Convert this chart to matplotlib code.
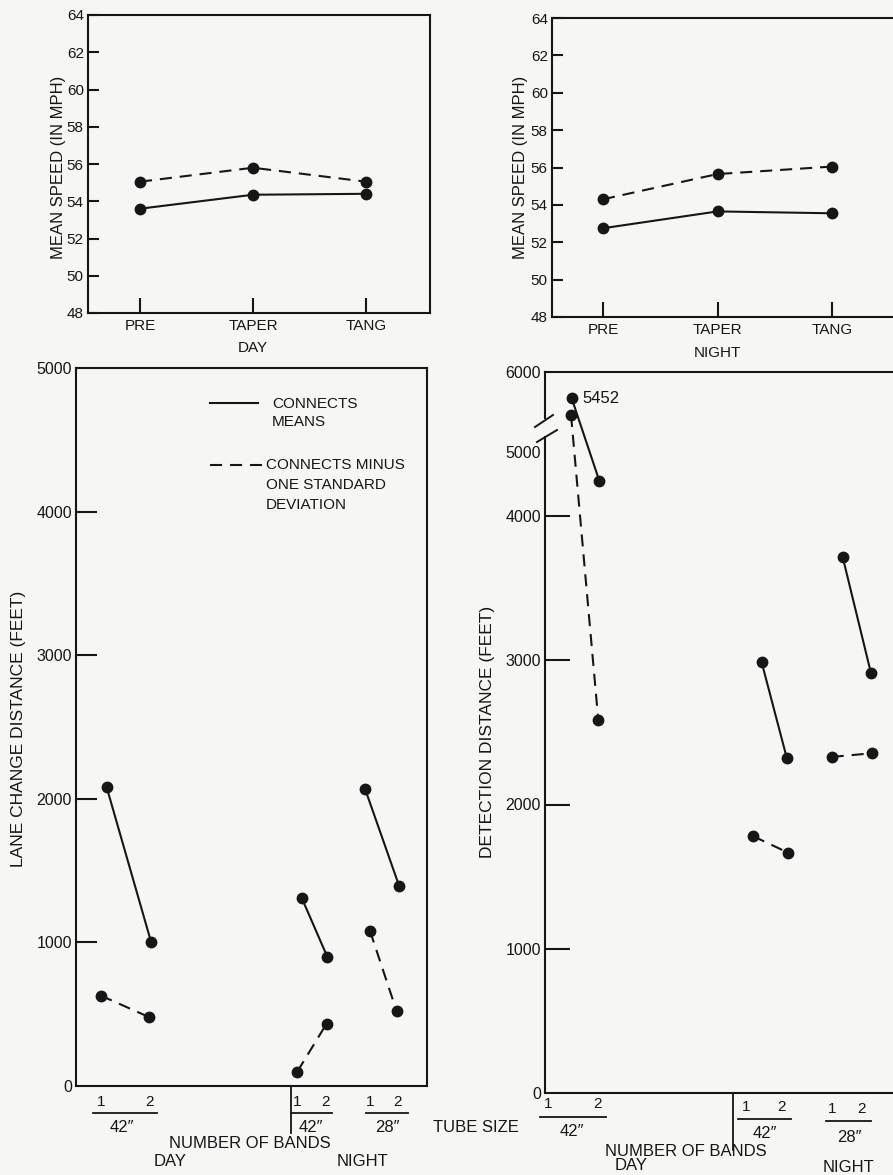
import numpy as np
import matplotlib
matplotlib.use("Agg")
import matplotlib.pyplot as plt
from matplotlib.lines import Line2D

# ---------------- data ----------------
stages = ["PRE", "TAPER", "TANG"]
speed_ticks = [48, 50, 52, 54, 56, 58, 60, 62, 64]
day_speed_solid = [53.6, 54.35, 54.4]
day_speed_dashed = [55.05, 55.8, 55.05]
night_speed_solid = [52.75, 53.65, 53.55]
night_speed_dashed = [54.3, 55.65, 56.05]

band_labels = ["1", "2"]
tube_labels = ["42\u2033", "42\u2033", "28\u2033"]   # day 42", night 42", night 28"

lane_ticks = [0, 1000, 2000, 3000, 4000, 5000]
lane_mean = [[2080, 1005], [1310, 900], [2070, 1390]]
lane_minus_sd = [[630, 480], [100, 435], [1080, 520]]

detect_ticks = [0, 1000, 2000, 3000, 4000, 5000, 6000]
detect_mean = [[5452, 4550], [2985, 2325], [3715, 2910]]
detect_minus_sd = [[5240, 2585], [1780, 1665], [2330, 2355]]
peak_label = "5452"

# ---------------- layout / style ----------------
W, H = 893, 1175
INK = "#161616"
PAPER = "#f6f6f4"
LW = 1.5
DASH = (0, (5.8, 3.8))
MS = 7.5

# horizontal slot positions of the band points inside the lower panels
lane_x_mean = [[30.7, 75.0], [225.7, 251.3], [289.0, 323.3]]
lane_x_sd = [[24.7, 73.0], [221.3, 250.7], [294.0, 320.7]]
detect_x_mean = [[26.7, 54.3], [216.7, 241.7], [297.7, 326.0]]
detect_x_sd = [[26.0, 53.3], [208.3, 243.3], [286.7, 326.7]]

# broken vertical scale of the detection panel (value -> drawing height)
break_vals = [-10000, 0, 4000, 5000, 5300, 6000, 16000]
break_height = [-1442.5, 0, 577, 641, 687.4, 721, 1201]

plt.rcParams["font.family"] = ["Liberation Sans", "DejaVu Sans"]
plt.rcParams["text.color"] = INK
plt.rcParams["axes.edgecolor"] = INK
plt.rcParams["xtick.color"] = INK
plt.rcParams["ytick.color"] = INK

fig = plt.figure(figsize=(W / 100, H / 100), dpi=100, facecolor=PAPER)


def fx(x):
    return x / W


def fy(y):
    return 1 - y / H


def axes_px(l, t, r, b):
    ax = fig.add_axes([fx(l), fy(b), (r - l) / W, (b - t) / H])
    ax.set_facecolor(PAPER)
    for s in ax.spines.values():
        s.set_linewidth(LW)
    return ax


def ftext(x, y, s, ha="center", va="center", size=11, **kw):
    fig.text(fx(x), fy(y), s, ha=ha, va=va, fontsize=size, **kw)


def fline(xs, ys, **kw):
    kw.setdefault("color", INK)
    kw.setdefault("lw", 1.3)
    fig.add_artist(Line2D([fx(x) for x in xs], [fy(y) for y in ys],
                          transform=fig.transFigure, **kw))


# ---------------- speed panels ----------------
def speed_panel(box, xpix, solid, dashed, title, title_y, ylab_x, ylab_y):
    l, t, r, b = box
    ax = axes_px(l, t, r, b)
    step = (xpix[2] - xpix[0]) / 2
    x = np.arange(len(stages))
    ax.plot(x, solid, ls="-", color=INK, lw=LW, marker="o", ms=MS)
    ax.plot(x, dashed, ls=DASH, color=INK, lw=LW, marker="o", ms=MS)
    ax.set_xlim((l - xpix[0]) / step, (r - xpix[0]) / step)
    ax.set_ylim(48, 64)
    ax.set_xticks(x, stages)
    ax.set_yticks(speed_ticks)
    ax.tick_params(axis="x", direction="in", length=11, width=LW, pad=4, labelsize=11)
    ax.tick_params(axis="y", direction="in", length=8, width=LW, pad=3, labelsize=11)
    ftext(ylab_x, ylab_y, "MEAN SPEED (IN MPH)", rotation=90, size=12)
    ftext((xpix[1]), title_y, title, size=11)
    return ax


speed_panel((88, 15, 430, 313), (140, 253, 366), day_speed_solid, day_speed_dashed,
            "DAY", 348, 59, 167)
speed_panel((552, 18, 896, 317), (603, 717, 832), night_speed_solid, night_speed_dashed,
            "NIGHT", 353, 520, 167)


# ---------------- distance panels ----------------
def pair_lines(ax, xs_mean, mean, xs_sd, sd):
    for xm, m, xsd, s in zip(xs_mean, mean, xs_sd, sd):
        ax.plot(xm, m, ls="-", color=INK, lw=LW, marker="o", ms=MS)
        ax.plot(xsd, s, ls=DASH, color=INK, lw=LW, marker="o", ms=MS)


def hide_corner_ticks(ax, ticks, keep):
    for t, v in zip(ax.yaxis.get_major_ticks(), ticks):
        if v not in keep:
            t.tick1line.set_visible(False)


# lane change distance
axL = axes_px(76, 368, 427, 1086)
pair_lines(axL, lane_x_mean, lane_mean, lane_x_sd, lane_minus_sd)
axL.set_xlim(0, 351)
axL.set_ylim(0, 5000)
axL.set_xticks([])
axL.set_yticks(lane_ticks)
axL.tick_params(axis="y", direction="in", length=15, width=LW, pad=3, labelsize=11.5)
hide_corner_ticks(axL, lane_ticks, (1000, 2000, 3000, 4000))
ftext(19, 729, "LANE CHANGE DISTANCE (FEET)", rotation=90, size=12.5)

# key
fline([210, 258], [403, 403], lw=LW)
ftext(272, 404, "CONNECTS", ha="left", size=11)
ftext(272, 422, "MEANS", ha="left", size=11)
fline([210, 262], [465, 465], lw=LW, ls=DASH)
ftext(266, 465, "CONNECTS MINUS", ha="left", size=11)
ftext(266, 485, "ONE STANDARD", ha="left", size=11)
ftext(266, 505, "DEVIATION", ha="left", size=11)

# detection distance, with a broken vertical scale
axR = axes_px(545, 372, 895, 1093)
axR.set_yscale("function",
               functions=(lambda v: np.interp(v, break_vals, break_height),
                          lambda h: np.interp(h, break_height, break_vals)))
pair_lines(axR, detect_x_mean, detect_mean, detect_x_sd, detect_minus_sd)
axR.set_xlim(0, 350)
axR.set_ylim(0, 6000)
axR.set_xticks([])
axR.set_yticks(detect_ticks)
axR.tick_params(axis="y", direction="in", length=18, width=LW, pad=3, labelsize=11.5)
hide_corner_ticks(axR, detect_ticks, (1000, 2000, 3000, 4000))
axR.annotate(peak_label, xy=(detect_x_mean[0][0], detect_mean[0][0]),
             xytext=(8, 0), textcoords="offset points", ha="left", va="center",
             fontsize=12, color=INK)
ftext(488, 732, "DETECTION DISTANCE (FEET)", rotation=90, size=12.5)

# break marks on the detection axis
fig.add_artist(plt.Rectangle((fx(541), fy(436)), 8 / W, 17 / H, transform=fig.transFigure,
                             facecolor=PAPER, edgecolor="none", zorder=3))
fline([535, 553], [427, 415], lw=1.4, zorder=4)
fline([537, 557], [442, 430], lw=1.4, zorder=4)


# ---------------- band / tube labels under the distance panels ----------------
def band_group(x1, x2, y_num, y_bar, bar_l, bar_r, tube_x, y_tube, tube):
    ftext(x1, y_num, band_labels[0], size=11)
    ftext(x2, y_num, band_labels[1], size=11)
    fline([bar_l, bar_r], [y_bar, y_bar], lw=1.3)
    ftext(tube_x, y_tube, tube, size=12)


band_group(101, 150, 1102, 1113, 93, 157, 122, 1128, tube_labels[0])
band_group(297, 325, 1102, 1113, 291, 332, 311, 1127, tube_labels[1])
band_group(370, 397, 1102, 1113, 366, 408, 387, 1127, tube_labels[2])
fline([290.7, 290.7], [1086, 1133], lw=1.3)
ftext(250, 1143, "NUMBER OF BANDS", size=12)
ftext(170, 1161, "DAY", size=12)
ftext(362, 1162, "NIGHT", size=12)

ftext(433, 1128, "TUBE SIZE", ha="left", size=12)

band_group(548, 598, 1104, 1117, 540, 606, 572, 1132, tube_labels[0])
band_group(746, 781, 1107, 1119, 738, 791, 765, 1134, tube_labels[1])
band_group(832, 862, 1109, 1121, 826, 871, 849, 1137, tube_labels[2])
fline([733, 733], [1093, 1150], lw=1.3)
ftext(686, 1151, "NUMBER OF BANDS", size=12)
ftext(631, 1166, "DAY", size=12)
ftext(849, 1168, "NIGHT", size=12)

fig.savefig("out.png", dpi=100, facecolor=PAPER)
